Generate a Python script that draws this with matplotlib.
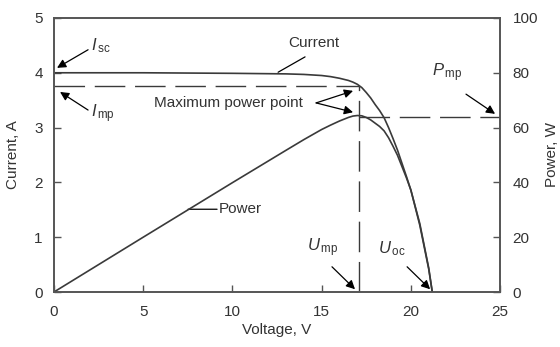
import matplotlib
matplotlib.use("Agg")
from matplotlib import pyplot as plt

plt.rcParams["font.family"] = ["Liberation Sans", "DejaVu Sans"]
plt.rcParams["mathtext.fontset"] = "custom"
plt.rcParams["mathtext.rm"] = "Liberation Sans"
plt.rcParams["mathtext.it"] = "Liberation Sans:italic"

# I-V curve of the module
voltage = [0, 5, 10, 13, 14, 15, 15.5, 16, 16.5, 16.75, 17, 17.25, 17.5,
           17.75, 18, 18.25, 18.5, 18.75, 19, 19.25, 19.5, 19.75, 20, 20.5,
           21, 21.2]
current = [4.00, 4.00, 3.99, 3.98, 3.97, 3.95, 3.93, 3.90, 3.86, 3.83, 3.79,
           3.73, 3.64, 3.54, 3.42, 3.31, 3.18, 3.00, 2.80, 2.59, 2.35, 2.11,
           1.86, 1.22, 0.42, 0.0]
power = [0, 20.0, 39.9, 51.7, 55.6, 59.3, 60.9, 62.4, 63.7, 64.2, 64.4,
         64.3, 63.7, 62.8, 61.6, 60.4, 58.8, 56.3, 53.2, 49.9, 45.8, 41.7,
         37.2, 25.0, 8.8, 0]

# maximum power point
v_mp = 17.1
i_mp = 3.75
p_mp = 64.0

x_ticks = [0, 5, 10, 15, 20, 25]
i_ticks = [0, 1, 2, 3, 4, 5]
p_ticks = [0, 20, 40, 60, 80, 100]

line_col = "#3a3a3a"
axis_col = "#555555"
text_col = "#333333"
dash = (0, (22, 7))

fig = plt.figure(figsize=(5.6, 3.47), dpi=100)
ax = fig.add_axes([0.0964, 0.1585, 0.7966, 0.7897])
ax2 = ax.twinx()

ax.plot(voltage, current, color=line_col, lw=1.2)
ax2.plot(voltage, power, color=line_col, lw=1.2)

# guide lines of the maximum power point
ax.plot([0, v_mp], [i_mp, i_mp], color=line_col, lw=1.0, linestyle=dash)
ax.plot([v_mp, v_mp], [0, i_mp], color=line_col, lw=1.0, linestyle=dash)
ax2.plot([v_mp, 25], [p_mp, p_mp], color=line_col, lw=1.0, linestyle=dash)

ax.set_xlim(0, 25)
ax.set_ylim(0, 5)
ax2.set_ylim(0, 100)
ax.set_xticks(x_ticks)
ax.set_yticks(i_ticks)
ax2.set_yticks(p_ticks)

for a in (ax, ax2):
    for s in a.spines.values():
        s.set_color(axis_col)
        s.set_linewidth(1.2)
ax.tick_params(direction="in", length=5, width=1, color=axis_col,
               labelsize=11, labelcolor=text_col)
ax.tick_params(axis="x", pad=9)
ax.tick_params(axis="y", pad=8)
ax2.tick_params(direction="in", length=5, width=1, color=axis_col,
                labelsize=11, labelcolor=text_col, pad=9)

ax.set_xlabel("Voltage, V", fontsize=11, color=text_col, labelpad=3)
ax.set_ylabel("Current, A", fontsize=11, color=text_col, labelpad=10)
ax2.set_ylabel("Power, W", fontsize=11, color=text_col, labelpad=5)

arrow = dict(arrowstyle="-|>", color="black", lw=0.9, mutation_scale=13,
             shrinkA=0, shrinkB=0)
plain = dict(arrowstyle="-", color="black", lw=0.9, shrinkA=0, shrinkB=0)
txt = dict(fontsize=12, color=text_col, va="center")

ax.annotate("", xy=(0.17, 4.09), xytext=(1.91, 4.42), arrowprops=arrow)
ax.text(2.1, 4.5, r"$I_{\,\mathrm{sc}}$", **txt)
ax.annotate("", xy=(0.34, 3.65), xytext=(1.91, 3.32), arrowprops=arrow)
ax.text(2.1, 3.25, r"$I_{\,\mathrm{mp}}$", **txt)

ax.annotate("", xy=(12.56, 4.01), xytext=(14.07, 4.29), arrowprops=plain)
ax.text(14.57, 4.54, "Current", fontsize=11, color=text_col,
        ha="center", va="center")

ax.text(5.6, 3.45, "Maximum power point", fontsize=11, color=text_col,
        va="center")
ax.annotate("", xy=(16.76, 3.67), xytext=(14.69, 3.45), arrowprops=arrow)
ax.annotate("", xy=(16.76, 3.28), xytext=(14.69, 3.45), arrowprops=arrow)

ax.annotate("", xy=(7.51, 1.51), xytext=(9.14, 1.51), arrowprops=plain)
ax.text(9.25, 1.52, "Power", fontsize=11, color=text_col, va="center")

ax.text(21.2, 4.0, r"$P_{\,\mathrm{mp}}$", **txt)
ax.annotate("", xy=(24.72, 3.25), xytext=(23.09, 3.61), arrowprops=arrow)

ax.text(14.2, 0.8, r"$U_{\,\mathrm{mp}}$", **txt)
ax.annotate("", xy=(16.87, 0.05), xytext=(15.58, 0.46), arrowprops=arrow)
ax.text(18.15, 0.8, r"$U_{\,\mathrm{oc}}$", **txt)
ax.annotate("", xy=(21.08, 0.05), xytext=(19.79, 0.46), arrowprops=arrow)

fig.savefig("out.png", dpi=100)
